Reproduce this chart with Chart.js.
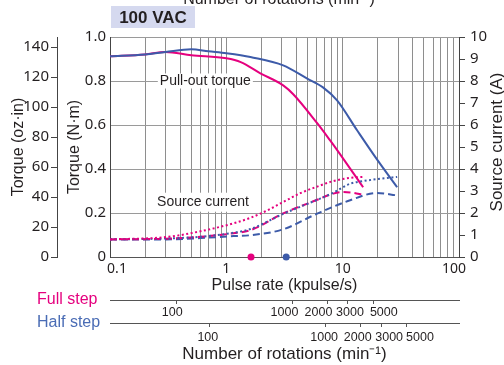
<!DOCTYPE html>
<html>
<head>
<meta charset="utf-8">
<script src="https://cdn.jsdelivr.net/npm/chart.js@4.4.1/dist/chart.umd.min.js"></script>
<style>
  html, body { margin: 0; padding: 0; background: #fff; }
  #wrap { width: 504px; height: 365px; position: relative; }
</style>
</head>
<body>
<div id="wrap"><canvas id="chart"></canvas></div>
<script>
// pulse rate in kpulse/s
const pulseGridTicks = [0.1, 0.2, 0.3, 0.4, 0.5, 0.6, 0.7, 0.8, 0.9,
  1, 2, 3, 4, 5, 6, 7, 8, 9, 10, 20, 30, 40, 50, 60, 70, 80, 90, 100];
const pulseLabels = [0.1, 1, 10, 100];
const ozTicks = [0, 20, 40, 60, 80, 100, 120, 140];
const rpmTicks = [100, 1000, 2000, 3000, 5000];

// pull-out torque (N·m)
const fullTorqueRate = [0.1, 0.2, 0.3, 0.5, 1, 1.33, 1.96, 3.08, 3.76, 6.04, 7.8, 9, 15];
const fullTorque = [0.912, 0.921, 0.932, 0.917, 0.903, 0.886, 0.835, 0.78, 0.74, 0.608, 0.53, 0.485, 0.317];
const halfTorqueRate = [0.1, 0.2, 0.3, 0.5, 0.7, 1, 1.33, 1.61, 3.08, 4.92, 6.77, 8.95, 13.3, 20, 29.4];
const halfTorque = [0.912, 0.921, 0.932, 0.944, 0.935, 0.926, 0.917, 0.909, 0.871, 0.812, 0.771, 0.712, 0.576, 0.439, 0.317];

// source current (A)
const fullDotRate = [0.1, 0.31, 0.6, 1.15, 1.61, 2.25, 3.08, 4.32, 6.04, 8.3, 11.6, 15];
const fullDotAmp = [0.8, 0.91, 1.17, 1.53, 1.78, 2.12, 2.5, 2.9, 3.2, 3.45, 3.6, 3.64];
const fullDashRate = [0.1, 0.3, 0.6, 1.15, 1.61, 3.08, 6.04, 8.3, 10, 12, 15];
const fullDashAmp = [0.8, 0.83, 0.92, 1.08, 1.22, 1.98, 2.6, 2.88, 2.95, 2.93, 2.83];
const halfDotRate = [0.1, 0.3, 0.6, 1.15, 1.61, 3.08, 6.04, 8.3, 11.6, 15, 21, 29.4];
const halfDotAmp = [0.8, 0.84, 0.92, 1.1, 1.27, 1.96, 2.6, 2.92, 3.33, 3.45, 3.56, 3.64];
const halfDashRate = [0.1, 0.3, 0.6, 1.15, 1.61, 3.08, 6.04, 11.6, 19.7, 29.4];
const halfDashAmp = [0.8, 0.8, 0.86, 0.95, 0.99, 1.26, 1.97, 2.58, 2.91, 2.8];

// max starting pulse rate markers
const fullStartRate = [1.63];
const halfStartRate = [3.27];

// rpm per kpulse/s as the rpm scales are drawn
const fullRpmPerKpps = 270;
const halfRpmPerKpps = 140;

const pink = '#e5007e';
const blue = '#3d5ba9';
const ink = '#231f20';
const sans = "'Liberation Sans', Arial, sans-serif";
// condensed face for the numbers (font-stretch goes in the weight slot)
const narrow = (size) => ({ family: "'Noto Sans', sans-serif", weight: 'condensed', size: size });

const pts = (xs, ys) => xs.map((x, i) => ({ x: x, y: ys[i] }));

const curve = (data, color, axis, dash) => ({
  data: data,
  yAxisID: axis,
  borderColor: color,
  borderWidth: 2,
  borderDash: dash,
  pointRadius: 0,
  fill: false,
  cubicInterpolationMode: 'monotone',
});

const dot = (rates, color) => ({
  data: rates.map(r => ({ x: r, y: 0 })),
  yAxisID: 'y',
  showLine: false,
  pointRadius: 3.5,
  pointBorderWidth: 0,
  pointBackgroundColor: color,
  clip: false,
});

// spread crowded tick labels a little, like the printed chart
const labelNudge = {
  id: 'labelNudge',
  beforeDraw(chart) {
    const nudges = {
      x: { '0.1': 7, '100': -5 },
      xFull: { '100': -4, '1000': -8, '2000': -9, '3000': 2, '5000': 10 },
      xHalf: { '100': -1.5, '1000': -1.5, '2000': -3, '3000': 8, '5000': 13 },
    };
    Object.keys(nudges).forEach(id => {
      chart.scales[id].getLabelItems(chart.chartArea).forEach(item => {
        const dx = nudges[id][item.label];
        if (dx && !item.nudged) {
          item.options.translation[0] += dx;
          item.nudged = true;
        }
      });
    });
  },
};

// texts that are not axis labels
const textBits = {
  id: 'textBits',
  beforeDatasetsDraw(chart) {
    const { ctx, scales } = chart;
    const notes = [
      { text: 'Pull-out torque', rate: 0.66, torque: 0.8, h: 15 },
      { text: 'Source current', rate: 0.63, torque: 0.249, h: 19 },
    ];
    ctx.save();
    ctx.font = '14px ' + sans;
    ctx.textAlign = 'center';
    ctx.textBaseline = 'middle';
    notes.forEach(n => {
      const x = scales.x.getPixelForValue(n.rate);
      const y = scales.y.getPixelForValue(n.torque);
      const w = ctx.measureText(n.text).width;
      ctx.fillStyle = '#fff';
      ctx.fillRect(x - w / 2 - 2, y - n.h / 2, w + 4, n.h);
      ctx.fillStyle = ink;
      ctx.fillText(n.text, x, y);
    });
    ctx.restore();
  },
  afterDraw(chart) {
    const { ctx, chartArea, scales } = chart;
    ctx.save();
    // voltage tag
    ctx.fillStyle = '#d5d9ef';
    ctx.fillRect(chartArea.left + 1, 6, 84, 22);
    ctx.fillStyle = ink;
    ctx.font = 'bold 17px ' + sans;
    ctx.textAlign = 'center';
    ctx.textBaseline = 'middle';
    ctx.fillText('100 VAC', chartArea.left + 43, 18);

    // top title, cut by the edge
    ctx.font = '16px ' + sans;
    ctx.textBaseline = 'alphabetic';
    ctx.fillText('Number of rotations (min⁻¹)', 279, 4);

    // step mode names
    ctx.textAlign = 'left';
    ctx.textBaseline = 'middle';
    ctx.fillStyle = pink;
    ctx.fillText('Full step', 37, scales.xFull.top);
    ctx.fillStyle = '#4a6cb5';
    ctx.fillText('Half step', 37, scales.xHalf.top);

    // right axis title, reads bottom to top
    ctx.fillStyle = ink;
    ctx.font = '17px ' + sans;
    ctx.textAlign = 'center';
    ctx.translate(497, (chartArea.top + chartArea.bottom) / 2 - 5);
    ctx.rotate(-Math.PI / 2);
    ctx.fillText('Source current (A)', 0, 0);
    ctx.restore();
  },
};

const fixSize = (w, h) => (s) => {
  if (w) s.width = w;
  if (h) s.height = h;
};

Chart.defaults.color = ink;
Chart.defaults.font.family = sans;

new Chart(document.querySelector('#chart'), {
  type: 'line',
  data: {
    datasets: [
      curve(pts(fullDotRate, fullDotAmp), pink, 'y2', [2, 2.5]),
      curve(pts(halfDotRate, halfDotAmp), blue, 'y2', [2, 2.5]),
      curve(pts(fullDashRate, fullDashAmp), pink, 'y2', [7, 4]),
      curve(pts(halfDashRate, halfDashAmp), blue, 'y2', [7, 4]),
      curve(pts(halfTorqueRate, halfTorque), blue, 'y', []),
      curve(pts(fullTorqueRate, fullTorque), pink, 'y', []),
      dot(fullStartRate, pink),
      dot(halfStartRate, blue),
    ],
  },
  options: {
    responsive: true,
    maintainAspectRatio: false,
    animation: false,
    layout: { padding: { top: 37, left: 0, right: 0, bottom: 0 } },
    plugins: { legend: { display: false }, tooltip: { enabled: false } },
    scales: {
      x: {
        type: 'logarithmic',
        position: 'bottom',
        weight: 1,
        min: 0.1,
        max: 100,
        afterBuildTicks: (s) => { s.ticks = pulseGridTicks.map(v => ({ value: v })); },
        afterFit: fixSize(0, 43),
        grid: { color: '#8e8e8e', drawTicks: false },
        border: { color: '#555' },
        ticks: {
          autoSkip: false,
          maxRotation: 0,
          padding: 4,
          font: narrow(14),
          callback: (v) => pulseLabels.includes(v) ? String(v) : '',
        },
        title: { display: true, text: 'Pulse rate (kpulse/s)', font: { size: 16 }, padding: { top: 0, bottom: 4.4 } },
      },
      xFull: {
        type: 'logarithmic',
        position: 'bottom',
        weight: 2,
        min: 0.1 * fullRpmPerKpps,
        max: 100 * fullRpmPerKpps,
        afterBuildTicks: (s) => { s.ticks = rpmTicks.map(v => ({ value: v })); },
        afterFit: fixSize(0, 23),
        grid: { drawOnChartArea: false, drawTicks: true, tickLength: 4, color: '#555' },
        border: { color: '#555' },
        ticks: { autoSkip: false, maxRotation: 0, padding: 1, font: { size: 12.5 }, callback: (v) => String(v) },
      },
      xHalf: {
        type: 'logarithmic',
        position: 'bottom',
        weight: 3,
        min: 0.1 * halfRpmPerKpps,
        max: 100 * halfRpmPerKpps,
        afterBuildTicks: (s) => { s.ticks = rpmTicks.map(v => ({ value: v })); },
        afterFit: fixSize(0, 42),
        grid: { drawOnChartArea: false, drawTicks: true, tickLength: 4, color: '#555' },
        border: { color: '#555' },
        ticks: { autoSkip: false, maxRotation: 0, padding: 3, font: { size: 12.5 }, callback: (v) => String(v) },
        title: { display: true, text: 'Number of rotations (min⁻¹)', font: { size: 17 }, padding: { top: 0, bottom: 0.4 } },
      },
      y: {
        position: 'left',
        weight: 1,
        min: 0,
        max: 1,
        afterFit: fixSize(53, 0),
        grid: { color: '#9a9a9a', drawTicks: false },
        border: { color: '#444' },
        ticks: {
          stepSize: 0.2,
          padding: 4,
          font: narrow(15),
          callback: (v) => v === 0 ? '0' : v.toFixed(1),
        },
        title: { display: true, text: 'Torque (N·m)', font: { size: 16 }, padding: { top: 7.5, bottom: 0 } },
      },
      yOz: {
        type: 'linear',
        position: 'left',
        weight: 2,
        min: 0,
        max: 146.7,
        afterBuildTicks: (s) => { s.ticks = ozTicks.map(v => ({ value: v })); },
        afterFit: fixSize(57, 0),
        grid: { drawOnChartArea: false, drawTicks: true, tickLength: 6, color: '#444' },
        border: { color: '#444' },
        ticks: { padding: 2, font: narrow(15) },
        title: { display: true, text: 'Torque (oz·in)', font: { size: 16 }, padding: { top: 8.5, bottom: 0 } },
      },
      y2: {
        type: 'linear',
        position: 'right',
        min: 0,
        max: 10,
        afterFit: fixSize(45, 0),
        grid: { drawOnChartArea: false, drawTicks: true, tickLength: 6, color: '#444' },
        border: { color: '#444' },
        ticks: { stepSize: 1, padding: 5, font: narrow(15) },
      },
    },
  },
  plugins: [labelNudge, textBits],
});
</script>
</body>
</html>
